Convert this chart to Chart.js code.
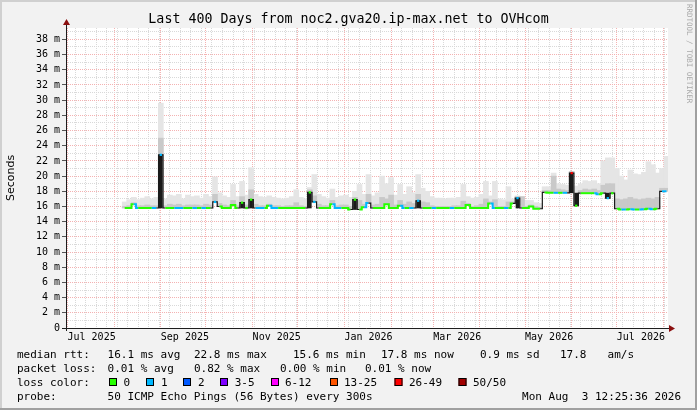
<!DOCTYPE html>
<html><head><meta charset="utf-8">
<script src="https://cdn.jsdelivr.net/npm/chart.js@4.4.1/dist/chart.umd.min.js"></script>
<style>html,body{margin:0;padding:0;background:#f2f2f2}canvas{display:block}</style>
</head><body>
<canvas id="c" width="697" height="410"></canvas>
<script>
// ---- data (x = days since 1 Jul 2025, one sample every 3 days from 8 Aug 2025) ----
const firstDay = 38, stepDays = 3;
const median = [
 15.8,15.8,16.3,15.8,15.8,15.8,15.8,15.8,22.8,15.8,
 15.8,15.8,15.8,15.8,15.8,15.8,15.8,15.8,15.8,15.8,
 16.6,16.0,15.8,15.8,16.2,15.8,16.5,15.8,16.9,15.8,
 15.8,15.8,16.1,15.8,15.8,15.8,15.8,15.8,15.8,15.8,
 15.8,17.85,16.6,15.8,15.8,15.8,16.3,15.8,15.8,15.8,
 15.6,16.9,15.6,15.9,16.45,15.8,15.8,15.8,16.3,15.8,
 15.8,16.1,15.8,15.8,15.8,16.75,15.8,15.8,15.8,15.8,
 15.8,15.8,15.8,15.8,15.8,15.8,16.2,15.8,15.8,15.8,
 15.8,16.4,15.8,15.8,15.8,15.8,16.4,17.1,15.8,15.8,
 16.0,15.7,15.7,17.85,17.8,17.8,17.8,17.8,17.8,20.4,
 16.1,17.75,17.75,17.75,17.75,17.6,17.75,17.1,17.75,15.7,
 15.6,15.6,15.65,15.6,15.6,15.65,15.7,15.65,15.7,18.0,18.0];
const lossLevel = [
 0,0,1,0,0,0,1,0,1,0,
 0,1,1,0,0,1,0,1,0,0,
 1,0,0,0,0,0,0,0,0,1,
 1,0,1,1,0,0,0,0,0,0,
 0,0,1,0,0,0,1,1,0,0,
 0,0,0,1,0,0,0,0,0,0,
 0,1,0,1,0,1,0,0,1,0,
 0,0,1,0,0,0,0,0,0,0,
 0,1,0,0,1,0,1,1,0,0,
 0,0,0,0,0,1,0,1,0,6,
 0,0,0,0,1,0,0,1,0,0,
 1,0,1,0,1,0,1,0,1,1,0];
const smokeMax = [
 16.6,16.9,17.2,16.9,17.1,17.3,17.0,17.2,29.6,17.0,
 17.5,17.4,17.6,17.0,17.5,17.3,17.4,17.1,17.6,17.3,
 19.9,17.8,17.4,17.2,18.9,17.3,19.3,17.5,21.1,17.6,
 17.3,17.2,17.4,17.2,17.1,17.0,17.1,17.3,18.2,17.2,
 17.0,18.5,20.2,17.6,17.3,17.1,18.3,17.2,17.4,17.5,
 17.2,18.0,18.9,17.6,20.2,17.4,17.8,20.0,19.0,19.8,
 17.5,18.9,17.6,18.6,17.8,20.2,18.4,18.0,17.3,17.1,
 17.1,17.0,17.1,17.1,17.2,18.9,17.3,17.1,17.2,17.6,
 19.3,17.4,19.3,17.0,16.9,18.6,17.0,17.4,17.3,16.8,
 16.8,16.5,16.4,18.6,18.6,20.4,19.0,18.9,18.8,20.6,
 18.7,19.0,19.4,19.3,19.4,19.0,22.0,22.4,22.4,21.0,
 20.0,19.5,20.8,20.3,20.2,20.5,21.9,21.5,20.4,21.0,22.6];
const smokeMid = [
 16.0,16.1,16.5,16.1,16.1,16.2,16.1,16.1,25.0,16.1,
 16.3,16.2,16.3,16.1,16.2,16.2,16.2,16.1,16.3,16.2,
 17.6,16.4,16.2,16.1,16.8,16.1,17.3,16.2,18.2,16.3,
 16.1,16.1,16.3,16.1,16.1,16.0,16.1,16.1,16.5,16.1,
 16.0,18.2,17.4,16.3,16.1,16.1,16.8,16.1,16.2,16.2,
 16.0,17.2,16.8,16.3,17.6,16.2,16.3,17.2,17.0,17.5,
 16.2,16.8,16.3,16.6,16.4,17.6,16.6,16.5,16.1,16.0,
 16.0,16.0,16.0,16.1,16.1,16.7,16.4,16.0,16.1,16.3,
 17.0,16.6,16.9,16.0,16.0,16.6,16.6,17.3,17.3,16.0,
 16.2,16.0,15.9,18.1,18.1,20.0,18.3,18.2,18.1,20.6,
 17.8,18.1,18.3,18.2,18.3,18.1,18.8,19.0,19.0,17.0,
 16.9,17.0,17.2,17.0,16.9,17.0,17.1,17.0,17.2,18.4,18.4];
// dense (dark) smoke columns under isolated median peaks
const darkDays = [62,116,122,161,191,233,299,335,338,359];
const darkLo   = [15.8,15.8,15.8,15.8,15.6,15.8,15.8,17.8,16.1,17.1];
const darkHi   = [22.8,16.5,16.9,17.85,16.9,16.75,17.1,20.4,17.75,17.75];

// ---- axis / legend texts ----
const monthDays   = [0,31,62,92,123,153,184,215,243,274,304,335,365,396];
const monthLabels = ['Jul 2025','','Sep 2025','','Nov 2025','','Jan 2026','','Mar 2026','','May 2026','','Jul 2026',''];
const firstSunday = 5;
const lossColors = ['#26ff00','#00b8ff','#0059ff','#7e00ff','#ff00ff','#ff5500','#ff0000','#a10000'];
const lossNames  = ['0','1','2','3-5','6-12','13-25','26-49','50/50'];
const rttStats   = ['16.1 ms avg','22.8 ms max','15.6 ms min','17.8 ms now','0.9 ms sd','17.8','am/s'];
const lossStats  = ['0.01 % avg','0.82 % max','0.00 % min','0.01 % now'];
const titleText  = 'Last 400 Days from noc2.gva20.ip-max.net to OVHcom';
const probeText  = '50 ICMP Echo Pings (56 Bytes) every 300s';
const dateText   = 'Mon Aug  3 12:25:36 2026';

const days = median.map((_, i) => firstDay + stepDays * i);
const RED = '#f4b2b2', GREY = '#d9d9d9';
const MONO = '"DejaVu Sans Mono", monospace';

const weekDays = [];
for (let d = firstSunday; d < 399; d += 7) weekDays.push(d);
const xTickVals = Array.from(new Set(monthDays.concat(weekDays))).sort((a, b) => a - b);

const deco = {
  id: 'deco',
  beforeDraw(chart) {
    const { ctx, chartArea: a, width: W, height: H } = chart;
    ctx.save();
    ctx.fillStyle = '#f2f2f2'; ctx.fillRect(0, 0, W, H);
    ctx.fillStyle = '#d0d0d0'; ctx.fillRect(0, 0, W, 2); ctx.fillRect(0, 0, 2, H);
    ctx.fillStyle = '#a0a0a0'; ctx.fillRect(0, H - 2, W, 2); ctx.fillRect(W - 2, 0, 2, H);
    ctx.fillStyle = '#ffffff'; ctx.fillRect(a.left, a.top, a.right - a.left, a.bottom - a.top);
    ctx.restore();
  },
  afterDraw(chart) {
    const { ctx, chartArea: a } = chart;
    ctx.save();
    ctx.strokeStyle = '#1e1e1e'; ctx.lineWidth = 1;
    ctx.beginPath();
    ctx.moveTo(a.left + 0.5, a.top - 6); ctx.lineTo(a.left + 0.5, a.bottom + 3);
    ctx.moveTo(a.left - 4, a.bottom + 0.5); ctx.lineTo(a.right + 3, a.bottom + 0.5);
    ctx.stroke();
    ctx.fillStyle = '#8b1010';
    ctx.beginPath();
    ctx.moveTo(a.left + 0.5, a.top - 9); ctx.lineTo(a.left - 3, a.top - 3); ctx.lineTo(a.left + 4, a.top - 3); ctx.closePath(); ctx.fill();
    ctx.beginPath();
    ctx.moveTo(a.right + 7, a.bottom + 0.5); ctx.lineTo(a.right + 1, a.bottom - 3); ctx.lineTo(a.right + 1, a.bottom + 4); ctx.closePath(); ctx.fill();
    ctx.fillStyle = '#000';
    ctx.font = '13.3px ' + MONO; ctx.textAlign = 'center'; ctx.textBaseline = 'alphabetic';
    ctx.fillText(titleText, 348.5, 23);
    ctx.save();
    ctx.translate(14, (a.top + a.bottom) / 2); ctx.rotate(-Math.PI / 2);
    ctx.font = '11px "DejaVu Sans", sans-serif'; ctx.textAlign = 'center';
    ctx.fillText('Seconds', 0, 0);
    ctx.restore();
    ctx.save();
    ctx.translate(687, 4); ctx.rotate(Math.PI / 2);
    ctx.font = '7.5px ' + MONO; ctx.fillStyle = '#a9a9a9'; ctx.textAlign = 'left';
    ctx.fillText('RRDTOOL / TOBI OETIKER', 0, 0);
    ctx.restore();
    ctx.font = '11px ' + MONO; ctx.textAlign = 'left'; ctx.fillStyle = '#000';
    const L1 = 358, L2 = 372, L3 = 386, L4 = 400;
    ctx.fillText('median rtt:', 17, L1);
    [107.6, 194, 293, 381, 480, 560, 607.6].forEach((x, k) => ctx.fillText(rttStats[k], x, L1));
    ctx.fillText('packet loss:', 17, L2);
    [107.6, 194, 280, 365].forEach((x, k) => ctx.fillText(lossStats[k], x, L2));
    ctx.fillText('loss color:', 17, L3);
    const sw = [109, 146, 183, 220, 271, 330, 394.5, 458.5];
    const tx = [123.6, 161, 198, 234.7, 285, 344, 409, 473];
    sw.forEach((x, k) => {
      ctx.fillStyle = lossColors[k]; ctx.fillRect(x, L3 - 8, 8, 8);
      ctx.strokeStyle = '#000'; ctx.lineWidth = 1; ctx.strokeRect(x + 0.5, L3 - 7.5, 7, 7);
      ctx.fillStyle = '#000'; ctx.fillText(lossNames[k], tx[k], L3);
    });
    ctx.fillText('probe:', 17, L4);
    ctx.fillText(probeText, 107.6, L4);
    ctx.textAlign = 'right'; ctx.fillText(dateText, 681, L4);
    ctx.restore();
  }
};

const bigStep = (c) => Math.abs(c.p1.parsed.y - c.p0.parsed.y) > 0.6;
const isPeak = (i) => {
  const a = i > 0 ? Math.abs(median[i] - median[i - 1]) : 0;
  const b = i < median.length - 1 ? Math.abs(median[i] - median[i + 1]) : 0;
  return a > 0.6 && b > 0.6;
};

new Chart(document.getElementById('c'), {
  type: 'line',
  data: {
    datasets: [
      { type: 'bar', label: 'smoke', order: 4, grouped: false, barThickness: 5,
        backgroundColor: '#e5e5e5', borderWidth: 0,
        data: days.map((d, i) => ({ x: d, y: [median[i], smokeMax[i]] })) },
      { type: 'bar', label: 'smoke dense', order: 3, grouped: false, barThickness: 5,
        backgroundColor: '#c9c9c9', borderWidth: 0,
        data: days.map((d, i) => ({ x: d, y: [median[i], smokeMid[i]] })) },
      { type: 'bar', label: 'dark', order: 2, grouped: false, barThickness: 3,
        backgroundColor: '#1a1a1a', borderWidth: 0,
        data: darkDays.map((d, i) => ({ x: d, y: [darkLo[i], darkHi[i]] })) },
      { type: 'line', label: 'median', order: 1, stepped: 'middle',
        borderWidth: 2, borderColor: lossColors[0], fill: false,
        data: days.map((d, i) => ({ x: d, y: median[i] })),
        segment: {
          borderColor: c => bigStep(c) ? '#1a1a1a' : lossColors[lossLevel[c.p0DataIndex]],
          borderWidth: c => bigStep(c) ? 1.2 : 2 },
        pointStyle: 'rect', pointBorderWidth: 0,
        pointRadius: c => isPeak(c.dataIndex) ? 1.6 : 0,
        pointBackgroundColor: c => lossColors[lossLevel[c.dataIndex]] }
    ]
  },
  options: {
    responsive: false, animation: false,
    layout: { padding: { left: 0, right: 29, top: 28, bottom: 64 } },
    plugins: { legend: { display: false }, tooltip: { enabled: false }, title: { display: false } },
    scales: {
      x: {
        type: 'linear', min: -1, max: 399, offset: false, position: 'bottom',
        afterBuildTicks: s => { s.ticks = xTickVals.map(v => ({ value: v })); },
        afterFit: s => { s.height = 18; },
        ticks: { autoSkip: false, maxRotation: 0, minRotation: 0, align: 'start', padding: 3,
          font: { family: MONO, size: 10 }, color: '#000',
          callback: v => { const k = monthDays.indexOf(v); return k >= 0 ? monthLabels[k] : ''; } },
        grid: { offset: false, drawTicks: false, lineWidth: 1, borderDash: [1, 1],
          color: c => monthDays.includes(c.tick.value) ? RED : GREY },
        border: { display: false, dash: [1, 1] }
      },
      y: {
        type: 'linear', min: 0, max: 39.5, position: 'left',
        afterBuildTicks: s => { const t = []; for (let v = 0; v <= 39; v++) t.push({ value: v }); s.ticks = t; },
        afterFit: s => { s.width = 66; },
        ticks: { autoSkip: false, padding: 2, font: { family: MONO, size: 10 }, color: '#000',
          callback: v => v % 2 ? '' : (v === 0 ? '0' : v + ' m') },
        grid: { drawTicks: true, tickLength: 4, lineWidth: 1, borderDash: [1, 1],
          color: c => c.tick.value % 2 ? GREY : RED,
          tickColor: c => c.tick.value % 2 ? 'rgba(0,0,0,0)' : '#555' },
        border: { display: false, dash: [1, 1] }
      }
    }
  },
  plugins: [deco]
});
</script>
</body></html>
